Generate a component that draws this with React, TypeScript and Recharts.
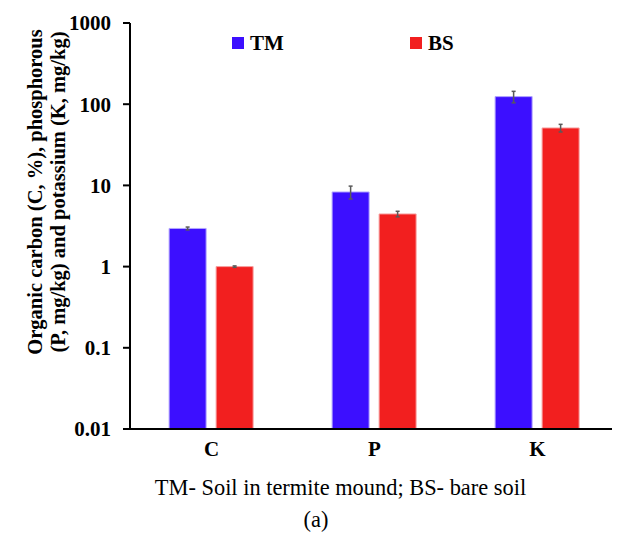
import React from "react";
import { BarChart, Bar, XAxis, YAxis, ErrorBar, Label } from "recharts";

const CATEGORIES = ["C", "P", "K"];
const TM_VALUES = [2.95, 8.3, 124];
const TM_ERRORS = [0.12, 1.5, 20];
const BS_VALUES = [1.0, 4.45, 51];
const BS_ERRORS = [0.02, 0.35, 5.5];
const Y_TICKS = [0.01, 0.1, 1, 10, 100, 1000];

const TM_COLOR = "#3c0fff";
const BS_COLOR = "#f21f1f";
const FONT = '"Liberation Serif", "Times New Roman", serif';

const data = CATEGORIES.map((name, i) => ({
  name,
  tm: TM_VALUES[i],
  tmErr: TM_ERRORS[i],
  bs: BS_VALUES[i],
  bsErr: BS_ERRORS[i],
}));

function YLabel() {
  return (
    <text
      transform="translate(42, 192) rotate(-90)"
      textAnchor="middle"
      fontFamily={FONT}
      fontWeight="bold"
      fontSize={20.5}
      fill="#000"
    >
      <tspan x={0} dy={0}>Organic carbon (C, %),  phosphorous</tspan>
      <tspan x={0} dy={23}>(P, mg/kg) and potassium (K, mg/kg)</tspan>
    </text>
  );
}

const LEGEND_ITEMS = [
  { label: "TM", color: TM_COLOR, left: 232 },
  { label: "BS", color: BS_COLOR, left: 410 },
];

export default function App() {
  return (
    <div style={{ position: "absolute", left: 0, top: 0, width: 617, height: 536, background: "#fff" }}>
      <BarChart
        width={617}
        height={536}
        data={data}
        margin={{ top: 23, right: 5, bottom: 77, left: 0 }}
        barCategoryGap="24%"
        barGap={10}
      >
        <XAxis
          dataKey="name"
          padding={{ left: 0, right: -7 }}
          axisLine={{ stroke: "#000", strokeWidth: 2 }}
          tickLine={false}
          tick={{ fill: "#000", fontFamily: FONT, fontWeight: "bold", fontSize: 21 }}
          tickMargin={6}
          height={30}
        />
        <YAxis
          scale="log"
          domain={[0.01, 1000]}
          ticks={Y_TICKS}
          allowDataOverflow
          width={130}
          axisLine={{ stroke: "#000", strokeWidth: 2 }}
          tickLine={{ stroke: "#000", strokeWidth: 2 }}
          tickSize={7}
          tickMargin={12}
          tick={{ fill: "#000", fontFamily: FONT, fontWeight: "bold", fontSize: 21 }}
        >
          <Label content={<YLabel />} />
        </YAxis>
        <Bar dataKey="tm" name="TM" fill={TM_COLOR} stroke="#b3a6ff" strokeWidth={1} isAnimationActive={false}>
          <ErrorBar dataKey="tmErr" width={2} stroke="#5a5a5a" strokeWidth={1.5} />
        </Bar>
        <Bar dataKey="bs" name="BS" fill={BS_COLOR} stroke="#f7a0a0" strokeWidth={1} isAnimationActive={false}>
          <ErrorBar dataKey="bsErr" width={2} stroke="#5a5a5a" strokeWidth={1.5} />
        </Bar>
      </BarChart>
      {LEGEND_ITEMS.map((it) => (
        <div
          key={it.label}
          style={{ position: "absolute", left: it.left, top: 31, display: "flex", alignItems: "center" }}
        >
          <span style={{ width: 12, height: 12, background: it.color, display: "inline-block", marginRight: 6 }} />
          <span style={{ fontFamily: FONT, fontWeight: "bold", fontSize: 21, color: "#000", lineHeight: "24px" }}>
            {it.label}
          </span>
        </div>
      ))}
      <div
        style={{
          position: "absolute",
          top: 475,
          left: 0,
          width: 617,
          paddingLeft: 64,
          boxSizing: "border-box",
          textAlign: "center",
          fontFamily: FONT,
          fontSize: 22.4,
          color: "#000",
        }}
      >
        TM- Soil in termite mound; BS- bare soil
      </div>
      <div
        style={{
          position: "absolute",
          top: 507,
          left: 0,
          width: 617,
          paddingLeft: 15,
          boxSizing: "border-box",
          textAlign: "center",
          fontFamily: FONT,
          fontSize: 22.4,
          color: "#000",
        }}
      >
        (a)
      </div>
    </div>
  );
}
